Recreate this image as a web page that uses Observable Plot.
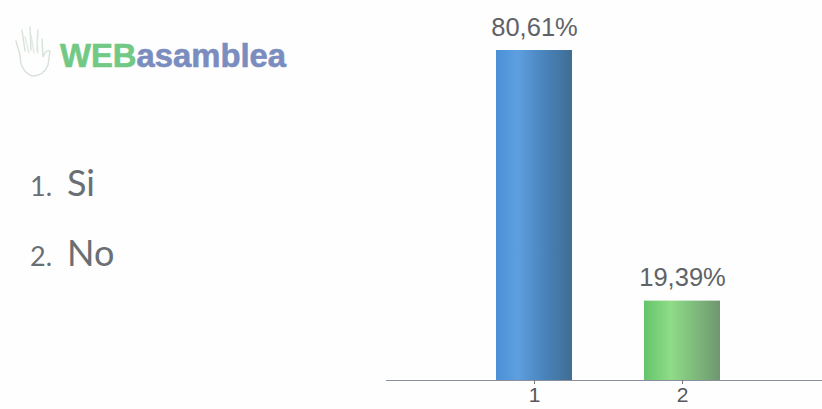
<!DOCTYPE html>
<html lang="es">
<head>
<meta charset="utf-8">
<title>WEBasamblea</title>
<script src="https://cdn.jsdelivr.net/npm/d3@7"></script>
<script src="https://cdn.jsdelivr.net/npm/@observablehq/plot@0.6"></script>
<style>
  html, body { margin: 0; padding: 0; background: #fefefe; overflow: hidden; }
  #page { position: relative; width: 822px; height: 409px; }
  #chart { position: absolute; left: 0; top: 0; }
  #chart svg { background: transparent; display: block; }
  .logo { position: absolute; left: 60px; top: 33px; font: bold 32.8px/46px "Liberation Sans", sans-serif; white-space: nowrap; -webkit-text-stroke: 0.6px currentColor; }
  .logo .web { color: #72c985; }
  .logo .rest { color: #7a8dbe; }
  .hand { position: absolute; left: 12px; top: 25px; }
  .option { position: absolute; left: 30px; font: 400 36px/44px Lato, sans-serif; color: #6a6f74; white-space: nowrap; }
  .option .n { display: inline-block; width: 37px; font-size: 27px; }
</style>
</head>
<body>
<div id="page">
  <div id="chart"></div>
  <svg class="hand" width="42" height="54" viewBox="0 0 42 54" fill="none" stroke="#d6e2d9" stroke-width="1.4" stroke-linecap="round">
    <path d="M8 30 L4 16 M13 26 L10 5 M19 25 L18 2 M25 26 L26 5 M8 30 Q8 46 20 51 Q32 51 36 40 L38 26 Q34 24 31 32 L30 14"/>
    <path d="M13 12 L17 28 M19 10 L22 28 M25 12 L26 28" stroke="#e3eae5"/>
  </svg>
  <div class="logo"><span class="web">WEB</span><span class="rest">asamblea</span></div>
  <div class="option" style="top:160px"><span class="n">1.</span>Si</div>
  <div class="option" style="top:230px"><span class="n">2.</span>No</div>
</div>
<script>
// Answer codes, the share of votes for each, and their bar fills
const answers = ["1", "2"];
const shares = [80.61, 19.39];
const fills = ["url(#barBlue)", "url(#barGreen)"];
const gradientStops = {
  barBlue: [[0, "#4b90d6"], [0.28, "#5d9fe0"], [0.62, "#4a85bd"], [1, "#3f6d92"]],
  barGreen: [[0, "#66c46a"], [0.35, "#8fdc88"], [0.65, "#7fbd7c"], [1, "#6f9670"]]
};

const rows = answers.map((answer, i) => ({answer, share: shares[i]}));
const decimalComma = (v) => v.toFixed(2).replace(".", ",") + "%";

// Horizontal shading shared by the bars, emitted as an SVG defs block
function gradients() {
  const defs = d3.create("svg:defs");
  for (const [id, stops] of Object.entries(gradientStops)) {
    const g = defs.append("linearGradient").attr("id", id);
    for (const [offset, color] of stops) {
      g.append("stop").attr("offset", offset).attr("stop-color", color);
    }
  }
  return defs.node();
}

const chart = Plot.plot({
  width: 822,
  height: 409,
  marginLeft: 386,
  marginRight: 0,
  marginTop: 0,
  marginBottom: 29,
  style: {background: "transparent"},
  x: {type: "band", domain: answers, range: [386, 830], paddingInner: 0.486, paddingOuter: 0.743, label: null},
  y: {domain: [0, shares[0]], range: [380, 50], axis: null},
  color: {type: "ordinal", domain: answers, range: fills},
  marks: [
    gradients,
    Plot.barY(rows, {x: "answer", y: "share", fill: "answer"}),
    Plot.ruleY([0], {stroke: "#8a8f9c", strokeWidth: 1.2}),
    Plot.text(rows, {
      x: "answer", y: "share", text: (d) => decimalComma(d.share),
      dy: -15, lineAnchor: "bottom", fontSize: 25.5,
      fontFamily: "Liberation Sans", fill: "#5f6368"
    }),
    Plot.axisX({
      tickSize: 4, tickPadding: 3, fontSize: 21, stroke: "#777",
      fontFamily: "Liberation Sans", fill: "#55585c", label: null
    })
  ]
});
document.getElementById("chart").append(chart);
</script>
</body>
</html>
